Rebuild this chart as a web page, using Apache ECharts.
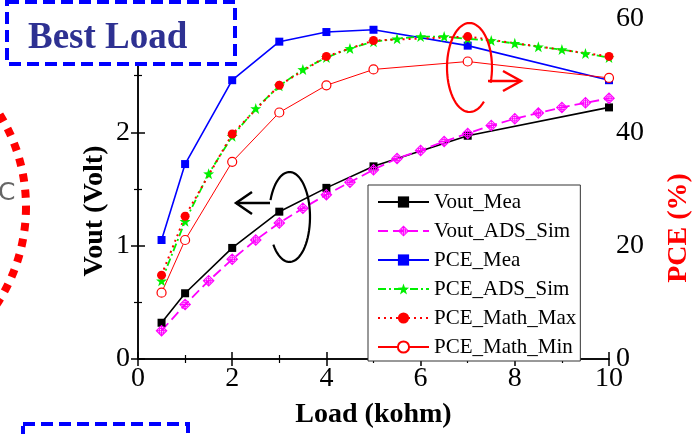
<!DOCTYPE html>
<html>
<head>
<meta charset="utf-8">
<script src="https://cdn.jsdelivr.net/npm/echarts@6/dist/echarts.min.js"></script>
<style>html,body{margin:0;padding:0;background:#fff;}#c{width:692px;height:434px;}</style>
</head>
<body>
<div id="c"></div>
<script>
// ---- data ----
const loadMea = [0.5, 1, 2, 3, 4, 5, 7, 10];
const loadSim = [0.5, 1, 1.5, 2, 2.5, 3, 3.5, 4, 4.5, 5, 5.5, 6, 6.5, 7, 7.5, 8, 8.5, 9, 9.5, 10];
const voutMea = [0.32, 0.58, 0.98, 1.30, 1.51, 1.70, 1.97, 2.22];
const voutAdsSim = [0.25, 0.48, 0.69, 0.88, 1.05, 1.20, 1.33, 1.45, 1.56, 1.67, 1.77, 1.84, 1.92, 1.99, 2.06, 2.12, 2.17, 2.22, 2.26, 2.30];
const pceMea = [21.0, 34.4, 49.2, 56.0, 57.7, 58.1, 55.3, 49.2];
const pceAdsSim = [13.8, 24.3, 32.7, 39.3, 44.2, 48.2, 51.1, 53.2, 54.8, 56.0, 56.5, 56.9, 56.9, 56.5, 56.2, 55.7, 55.1, 54.6, 53.9, 53.2];
const pceMathMax = [14.8, 25.2, 39.7, 48.3, 53.4, 56.2, 56.9, 53.4];
const pceMathMin = [11.7, 21.0, 34.8, 43.5, 48.3, 51.1, 52.5, 49.6];
const seriesNames = ['Vout_Mea', 'Vout_ADS_Sim', 'PCE_Mea', 'PCE_ADS_Sim', 'PCE_Math_Max', 'PCE_Math_Min'];
const xTicks = {min: 0, max: 10, interval: 2};
const voutTicks = {min: 0, max: 3, interval: 1};
const pceTicks = {min: 0, max: 60, interval: 20};

const zip = (xs, ys) => xs.map((x, i) => [x, ys[i]]);
const FONT = '"Liberation Serif", "Times New Roman", serif';
const starPath = 'path://M0,-1L0.235,-0.324L0.951,-0.309L0.380,0.124L0.588,0.809L0,0.4L-0.588,0.809L-0.380,0.124L-0.951,-0.309L-0.235,-0.324Z';
// open diamond with circle + crosshair, built as filled outline rings
const diamondCross = 'path://M0,-1L1,0L0,1L-1,0Z' +
  'M0,-0.74L-0.74,0L0,0.74L0.74,0Z' +
  'M-0.08,-0.74L0.08,-0.74L0.08,0.74L-0.08,0.74Z' +
  'M-0.74,-0.08L0.74,-0.08L0.74,0.08L-0.74,0.08Z' +
  'M0.48,0A0.48,0.48,0,1,1,-0.48,0A0.48,0.48,0,1,1,0.48,0Z' +
  'M0.33,0A0.33,0.33,0,1,0,-0.33,0A0.33,0.33,0,1,0,0.33,0Z';

// decorative open ellipse outline (annotation loop), angles in degrees
function ellipseArc(cx, cy, rx, ry, a0, a1) {
  const pts = [];
  const n = 60;
  for (let i = 0; i <= n; i++) {
    const t = (a0 + (a1 - a0) * i / n) * Math.PI / 180;
    pts.push([cx + rx * Math.cos(t), cy + ry * Math.sin(t)]);
  }
  return pts;
}

const chart = echarts.init(document.getElementById('c'), null, {renderer: 'canvas'});

const axisCommon = {
  axisLine: {show: true, lineStyle: {color: '#000', width: 1.5}},
  axisTick: {show: true, inside: true, length: 7, lineStyle: {color: '#000', width: 1.5}},
  minorTick: {show: true, splitNumber: 2, length: 4, lineStyle: {color: '#000', width: 1.2}},
  splitLine: {show: false},
  axisLabel: {color: '#000', fontFamily: FONT, fontSize: 28}
};

chart.setOption({
  animation: false,
  backgroundColor: '#fff',
  grid: {left: 138, right: 83, top: 19, bottom: 68, containLabel: false},
  legend: {
    orient: 'vertical', left: 368, top: 185,
    data: seriesNames,
    backgroundColor: '#fff', borderColor: '#333', borderWidth: 1,
    padding: [6, 4, 3, 9],
    itemWidth: 51, itemHeight: 14, itemGap: 7,
    textStyle: {fontFamily: FONT, fontSize: 21, color: '#000', lineHeight: 22},
    z: 50
  },
  xAxis: [
    Object.assign({}, axisCommon, {
      type: 'value', position: 'bottom', min: xTicks.min, max: xTicks.max, interval: xTicks.interval,
      axisLabel: Object.assign({}, axisCommon.axisLabel, {margin: 6}),
      name: 'Load (kohm)', nameLocation: 'middle', nameGap: 42,
      nameTextStyle: {fontFamily: FONT, fontSize: 28, fontWeight: 'bold', color: '#000'}
    }),
    Object.assign({}, axisCommon, {
      type: 'value', position: 'top', min: xTicks.min, max: xTicks.max, interval: xTicks.interval,
      axisLabel: {show: false}
    })
  ],
  yAxis: [
    Object.assign({}, axisCommon, {
      type: 'value', position: 'left', min: voutTicks.min, max: voutTicks.max, interval: voutTicks.interval,
      axisLabel: Object.assign({}, axisCommon.axisLabel, {margin: 8})
    }),
    Object.assign({}, axisCommon, {
      type: 'value', position: 'right', min: pceTicks.min, max: pceTicks.max, interval: pceTicks.interval,
      axisLabel: Object.assign({}, axisCommon.axisLabel, {margin: 7})
    })
  ],
  series: [
    {
      name: seriesNames[0], type: 'line', yAxisIndex: 0, data: zip(loadMea, voutMea),
      symbol: 'rect', symbolSize: 8,
      itemStyle: {color: '#000'}, lineStyle: {color: '#000', width: 1.6}
    },
    {
      name: seriesNames[1], type: 'line', yAxisIndex: 0, data: zip(loadSim, voutAdsSim),
      symbol: diamondCross, symbolSize: 12,
      itemStyle: {color: '#ff00ff'},
      lineStyle: {color: '#ff00ff', width: 1.8, type: [10, 5]}
    },
    {
      name: seriesNames[2], type: 'line', yAxisIndex: 1, data: zip(loadMea, pceMea),
      symbol: 'rect', symbolSize: 8,
      itemStyle: {color: '#0000ff'}, lineStyle: {color: '#0000ff', width: 1.6}
    },
    {
      name: seriesNames[3], type: 'line', yAxisIndex: 1, data: zip(loadSim, pceAdsSim),
      symbol: starPath, symbolSize: 11,
      itemStyle: {color: '#00f000'}, lineStyle: {color: '#00f000', width: 1.8, type: [8, 3, 2, 3]}
    },
    {
      name: seriesNames[4], type: 'line', yAxisIndex: 1, data: zip(loadMea, pceMathMax),
      symbol: 'circle', symbolSize: 9,
      itemStyle: {color: '#ff0000'}, lineStyle: {color: '#ff0000', width: 2, type: [2, 4]}
    },
    {
      name: seriesNames[5], type: 'line', yAxisIndex: 1, data: zip(loadMea, pceMathMin),
      symbol: 'circle', symbolSize: 9,
      itemStyle: {color: '#fff', borderColor: '#ff0000', borderWidth: 1.2},
      lineStyle: {color: '#ff0000', width: 1}
    }
  ],
  graphic: [
    {type: 'text', z: 60, x: 95, y: 211, rotation: Math.PI / 2,
     style: {text: 'Vout (Volt)', fontFamily: FONT, fontSize: 28, fontWeight: 'bold', fill: '#000', textAlign: 'center', textVerticalAlign: 'middle'}},
    {type: 'text', z: 60, x: 679, y: 228, rotation: Math.PI / 2,
     style: {text: 'PCE (%)', fontFamily: FONT, fontSize: 28, fontWeight: 'bold', fill: '#ff0000', textAlign: 'center', textVerticalAlign: 'middle'}},
    // best load box
    {type: 'rect', z: 100, shape: {x: 7, y: 2, width: 228, height: 62},
     style: {fill: '#fff', stroke: '#0000ff', lineWidth: 4, lineDash: [12, 6]}},
    {type: 'text', z: 101, x: 28, y: 38,
     style: {text: 'Best Load', fontFamily: FONT, fontSize: 37, fontWeight: 'bold', fill: '#2e3192', textAlign: 'left', textVerticalAlign: 'middle'}},
    // bottom-left blue dashed box
    {type: 'rect', z: 100, shape: {x: 23, y: 424, width: 165, height: 40},
     style: {fill: 'none', stroke: '#0000ff', lineWidth: 4, lineDash: [12, 6]}},
    // big red dotted circle at left
    {type: 'circle', z: 100, shape: {cx: -150, cy: 207, r: 176},
     style: {fill: 'none', stroke: '#ff0000', lineWidth: 8, lineDash: [8, 8]}},
    {type: 'text', z: 100, x: -2, y: 193,
     style: {text: 'C', fontFamily: '"DejaVu Sans", sans-serif', fontSize: 25, fill: '#666', textAlign: 'left', textVerticalAlign: 'middle'}},
    // black loop + left arrow
    {type: 'polyline', z: 60, shape: {points: ellipseArc(289.5, 217, 20.5, 45, 202, 502)},
     style: {fill: 'none', stroke: '#000', lineWidth: 2.2}},
    {type: 'polyline', z: 60, shape: {points: [[270, 203], [236, 203]]}, style: {stroke: '#000', lineWidth: 2.5, fill: 'none'}},
    {type: 'polyline', z: 60, shape: {points: [[252, 192], [236, 203], [252, 214]]}, style: {stroke: '#000', lineWidth: 2.5, fill: 'none'}},
    // red loop + right arrow
    {type: 'polyline', z: 60, shape: {points: ellipseArc(469.5, 67.5, 22.5, 44.5, 50, 380)},
     style: {fill: 'none', stroke: '#ff0000', lineWidth: 2.2}},
    {type: 'polyline', z: 60, shape: {points: [[488, 81], [521, 81]]}, style: {stroke: '#ff0000', lineWidth: 2.5, fill: 'none'}},
    {type: 'polyline', z: 60, shape: {points: [[503, 71], [521, 81], [503, 91]]}, style: {stroke: '#ff0000', lineWidth: 2.5, fill: 'none'}}
  ]
});
</script>
</body>
</html>
